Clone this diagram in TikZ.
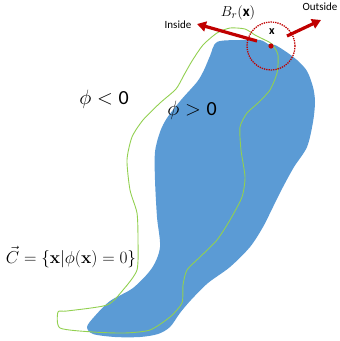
\documentclass[tikz,border=0pt]{standalone}
\usepackage{amsmath}
\usepackage[no-math]{fontspec}
\setmainfont{Carlito}
\usetikzlibrary{arrows.meta,positioning}
\definecolor{blob}{HTML}{5B9BD5}
\definecolor{lvl}{HTML}{92D050}
\definecolor{dred}{HTML}{C00000}
\tikzset{
  lbl/.style={inner sep=1pt,font=\fontsize{11}{12}\selectfont},
  phil/.style={inner sep=1pt,font=\fontsize{20}{22}\selectfont},
  ar/.style={-{Triangle[length=9pt,width=10pt]},line width=3.2pt,draw=dred},
}
\begin{document}
\begin{tikzpicture}[x=1pt,y=-1pt]
\useasboundingbox (0,0) rectangle (340,341);
% region phi > 0
\fill[blob] plot[smooth cycle,tension=0.5] coordinates {
  (217,42) (240,40) (260,40) (268,44) (275,45) (285,51) (297,60) (307,71)
  (313,87) (315,102) (313,122) (307,147) (294,167) (283,187) (273,207)
  (263,227) (250,247) (230,267) (208,283) (191,300) (180,313) (170,327)
  (158,334) (140,337) (115,337) (93,334) (87,327) (94,317) (110,301)
  (133,288) (152,268) (160,247) (157,217) (155,180) (155,152) (160,132)
  (167,118) (181,100) (197,82) (204,70) (210,56)};
% zero level set
\draw[lvl,line width=0.9pt] plot[smooth cycle,tension=0.4] coordinates {
  (176,89) (184,75) (192,61) (203,45) (217,33) (230,28) (245,29) (255,35)
  (265,40) (272,44) (278,55) (277,73) (270,90) (258,103) (247,113)
  (240,127) (241,150) (245,177) (242,197) (230,220) (217,240) (200,257)
  (187,270) (183,285) (182,303) (170,317) (150,330) (125,333) (93,332)
  (60,328) (58,312) (67,311) (107,305) (123,290) (137,270) (138,240)
  (137,213) (130,190) (127,160) (132,137) (143,120) (160,103)};
% ball around x
\node[circle,draw=dred,line width=1.3pt,densely dotted,minimum size=48pt,inner sep=0pt] (ball) at (271,46) {};
\fill[dred] (ball.center) circle (2.6pt);
\node[font=\fontsize{12}{12}\selectfont\bfseries,inner sep=1pt] (xlab) at (272,32) {x};
\node[font=\fontsize{15}{16}\selectfont,inner sep=1pt] (brlab) at (238,13) {$B_r(\text{\bfseries x})$};
% normal direction arrows
\coordinate (inS) at (257,41);
\coordinate (inE) at (197,24);
\coordinate (outS) at (287,36);
\coordinate (outE) at (321,20);
\draw[ar] (inS) -- (inE);
\draw[ar] (outS) -- (outE);
\node[lbl] (inside) at (178,25) {Inside};
\node[lbl] (outside) at (320,7) {Outside};
% labels
\node[phil] (neg) at (104,99) {$\phi<{}$0};
\node[phil] (pos) at (192,110) {$\phi>{}$0};
\node[font=\fontsize{16}{18}\selectfont,inner sep=1pt] (curve) at (71,257) {$\vec{C}=\{\mathbf{x}|\phi(\mathbf{x})=0\}$};
\end{tikzpicture}
\end{document}
